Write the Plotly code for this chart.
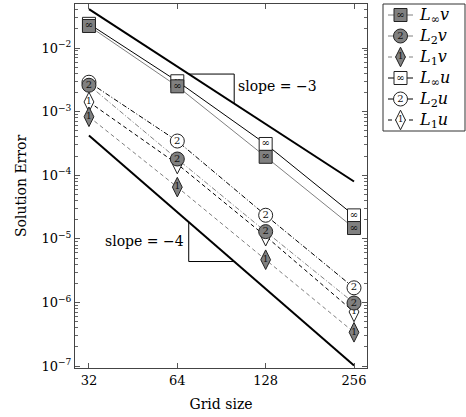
import numpy as np
import plotly.graph_objects as go

# ---------------- data ----------------
grid = [32, 64, 128, 256]
Linf_v = [0.0222, 2.5e-3, 1.95e-4, 1.48e-5]
L2_v = [2.6e-3, 1.8e-4, 1.3e-5, 9.8e-7]
L1_v = [8.3e-4, 6.5e-5, 4.7e-6, 3.4e-7]
Linf_u = [0.0240, 3.0e-3, 3.1e-4, 2.34e-5]
L2_u = [2.9e-3, 3.45e-4, 2.35e-5, 1.7e-6]
L1_u = [1.42e-3, 1.5e-4, 1.1e-5, 7.1e-7]

ref3_c = 0.0408   # slope -3 reference value at N=32
ref4_c = 4.2e-4   # slope -4 reference value at N=32
tri_x = [70, 100]

x_ticks = [32, 64, 128, 256]
y_tickvals = [1e-2, 1e-3, 1e-4, 1e-5, 1e-6, 1e-7]
y_ticktext = ["10<sup>−2</sup>", "10<sup>−3</sup>", "10<sup>−4</sup>",
              "10<sup>−5</sup>", "10<sup>−6</sup>", "10<sup>−7</sup>"]

GRAY = "#808080"
FONT = "DejaVu Serif"

series = [
    ("<i>L</i><sub>∞</sub><i>u</i>", Linf_u, "black", "solid", "square", "white", "∞"),
    ("<i>L</i><sub>2</sub><i>u</i>", L2_u, "black", "5px,2px,1px,2px", "circle", "white", "2"),
    ("<i>L</i><sub>1</sub><i>u</i>", L1_u, "black", "4px,3px", "diamond-tall", "white", "1"),
    ("<i>L</i><sub>∞</sub><i>v</i>", Linf_v, GRAY, "solid", "square", GRAY, "∞"),
    ("<i>L</i><sub>2</sub><i>v</i>", L2_v, GRAY, "5px,2px,1px,2px", "circle", GRAY, "2"),
    ("<i>L</i><sub>1</sub><i>v</i>", L1_v, GRAY, "4px,3px", "diamond-tall", GRAY, "1"),
]
msize = {"square": 13, "circle": 14, "diamond-tall": 14}
tsize = {"∞": 10, "2": 10, "1": 9}

fig = go.Figure()

# reference slope lines
ref3 = [ref3_c * (n / grid[0]) ** -3 for n in grid]
ref4 = [ref4_c * (n / grid[0]) ** -4 for n in grid]
fig.add_trace(go.Scatter(x=[grid[0], grid[-1]], y=[ref3[0], ref3[-1]], mode="lines",
                         line=dict(color="black", width=2), showlegend=False))
fig.add_trace(go.Scatter(x=[grid[0], grid[-1]], y=[ref4[0], ref4[-1]], mode="lines",
                         line=dict(color="black", width=2), showlegend=False))

# slope triangles
f3 = [ref3_c * (n / grid[0]) ** -3 for n in tri_x]
f4 = [ref4_c * (n / grid[0]) ** -4 for n in tri_x]
fig.add_trace(go.Scatter(x=[tri_x[0], tri_x[1], tri_x[1]], y=[f3[0], f3[0], f3[1]],
                         mode="lines", line=dict(color="black", width=1), showlegend=False))
fig.add_trace(go.Scatter(x=[tri_x[0], tri_x[0], tri_x[1]], y=[f4[0], f4[1], f4[1]],
                         mode="lines", line=dict(color="black", width=1), showlegend=False))

for name, vals, lc, dash, sym, fill, lab in series:
    fig.add_trace(go.Scatter(
        x=grid, y=vals, mode="lines+markers+text",
        line=dict(color=lc, width=1, dash=dash),
        marker=dict(symbol=sym, size=msize[sym], color=fill,
                    line=dict(color="#222", width=1)),
        text=[lab] * len(grid), textposition="middle center",
        textfont=dict(size=tsize[lab], color="#111", family=FONT),
        showlegend=False, cliponaxis=False))

# ---------- manual legend on its own axes ----------
leg_order = [3, 4, 5, 0, 1, 2]
leg_y = [11, 32, 53, 74, 95, 116]
for yy, idx in zip(leg_y, leg_order):
    name, vals, lc, dash, sym, fill, lab = series[idx]
    fig.add_trace(go.Scatter(x=[5, 30], y=[yy, yy], mode="lines", xaxis="x2", yaxis="y2",
                             line=dict(color=lc, width=1, dash=dash), showlegend=False))
    fig.add_trace(go.Scatter(x=[17.5], y=[yy], mode="markers+text", xaxis="x2", yaxis="y2",
                             marker=dict(symbol=sym, size=msize[sym], color=fill,
                                         line=dict(color="#222", width=1)),
                             text=[lab], textposition="middle center",
                             textfont=dict(size=tsize[lab], color="#111", family=FONT),
                             showlegend=False))
    fig.add_annotation(x=34, y=yy, xref="x2", yref="y2", text=name, showarrow=False,
                       xanchor="left", yanchor="middle",
                       font=dict(family=FONT, size=16, color="black"))

# slope labels
fig.add_annotation(x=np.log10(tri_x[1]), y=np.log10(f3[0] * 0.65), text="slope = −3",
                   showarrow=False, xanchor="left", yanchor="middle", xshift=2,
                   font=dict(family=FONT, size=14, color="black"))
fig.add_annotation(x=np.log10(tri_x[0]), y=np.log10(f4[0] * 0.5), text="slope = −4",
                   showarrow=False, xanchor="right", yanchor="middle", xshift=-3,
                   font=dict(family=FONT, size=14, color="black"))

plot_w = 466 - 75 - 1
main_frac = 292 / plot_w
fig.add_shape(type="rect", xref="paper", yref="paper",
              x0=(383 - 75) / plot_w, x1=1.0, y0=(368 - 131) / 364, y1=1.0,
              line=dict(color="#333", width=1), fillcolor="rgba(0,0,0,0)")

axis_common = dict(showgrid=False, zeroline=False, showline=True, linecolor="#444",
                   linewidth=1, ticks="inside", ticklen=5, tickcolor="#555",
                   mirror="allticks", tickfont=dict(family=FONT, size=13, color="black"))

fig.update_layout(
    width=466, height=417,
    margin=dict(l=75, r=1, t=4, b=49),
    paper_bgcolor="white", plot_bgcolor="white",
    font=dict(family=FONT, color="black"),
    xaxis=dict(type="log", domain=[0, main_frac], range=[1.4576, 2.4525],
               tickvals=x_ticks, ticktext=[str(v) for v in x_ticks],
               title=dict(text="Grid size", font=dict(family=FONT, size=14), standoff=12),
               **axis_common),
    yaxis=dict(type="log", range=[-7.03, -1.308],
               tickvals=y_tickvals, ticktext=y_ticktext,
               minor=dict(ticks="inside", ticklen=3, tickcolor="#666", showgrid=False,
                          tickmode="linear", dtick="D1"),
               title=dict(text="Solution Error", font=dict(family=FONT, size=14), standoff=11),
               **axis_common),
    xaxis2=dict(domain=[(383 - 75) / plot_w, 1.0], range=[0, 82], visible=False,
                anchor="y2"),
    yaxis2=dict(domain=[(368 - 131) / 364, 1.0], range=[127, 0], visible=False,
                anchor="x2"),
)

fig.write_html("out.html")
